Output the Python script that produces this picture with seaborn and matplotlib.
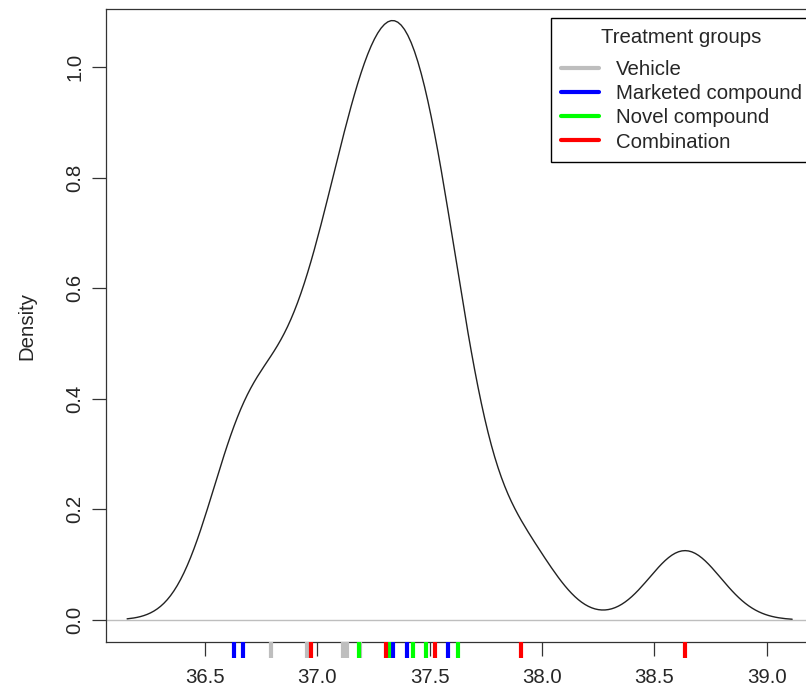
import numpy as np
import pandas as pd
import matplotlib
matplotlib.use("Agg")
import matplotlib.pyplot as plt
import seaborn as sns
from matplotlib.lines import Line2D

# values (one tick per animal; one vehicle tick sits under a green one)
vehicle = [36.795, 36.952, 37.115, 37.133, 37.190]
marketed = [36.630, 36.669, 37.336, 37.401, 37.583]
novel = [37.187, 37.320, 37.428, 37.482, 37.627]
combination = [36.971, 37.307, 37.523, 37.907, 38.637]

groups = ["Vehicle", "Marketed compound", "Novel compound", "Combination"]
colors = {"Vehicle": "#BEBEBE", "Marketed compound": "#0000FF",
          "Novel compound": "#00FF00", "Combination": "#FF0000"}

x_ticks = [36.5, 37.0, 37.5, 38.0, 38.5, 39.0]
y_ticks = [0.0, 0.2, 0.4, 0.6, 0.8, 1.0]

# kernel bandwidth (tails run 3 bw past the data)
bandwidth = 0.159

df = pd.DataFrame({
    "value": vehicle + marketed + novel + combination,
    "group": ["Vehicle"] * len(vehicle) + ["Marketed compound"] * len(marketed)
             + ["Novel compound"] * len(novel) + ["Combination"] * len(combination),
})

sns.set_theme(style="white")
plt.rcParams["font.family"] = ["Liberation Sans", "DejaVu Sans"]
fs = 14.7

fig = plt.figure(figsize=(8.06, 6.91), dpi=100)
ax = fig.add_axes([106 / 806, 49 / 691, 1.004 - 106 / 806, 633 / 691])

sd = df["value"].std(ddof=1)

ax.axhline(0, color="#BEBEBE", lw=1.0, zorder=1)
sns.kdeplot(data=df, x="value", bw_method=bandwidth / sd, cut=3,
            color="#222222", linewidth=1.0, ax=ax, zorder=2)
sns.rugplot(data=df, x="value", hue="group", palette=colors, height=-0.025,
            clip_on=False, linewidth=3.0, legend=False, ax=ax, zorder=5)

ax.set_xlim(36.059, 39.19)
ax.set_ylim(-0.0398, 1.105)
ax.set_xticks(x_ticks)
ax.set_xticklabels([f"{t:.1f}" for t in x_ticks], fontsize=fs)
ax.set_yticks(y_ticks)
ax.set_yticklabels([f"{t:.1f}" for t in y_ticks], fontsize=fs,
                   rotation=90, va="center")
ax.tick_params(axis="both", direction="out", length=10, width=0.9,
               color="#333333", bottom=True, left=True)
ax.tick_params(axis="x", pad=8.5)
ax.tick_params(axis="y", pad=5.5)
ax.set_xlabel("")
ax.set_ylabel("Density", fontsize=fs, labelpad=21)
for s in ax.spines.values():
    s.set_visible(True)
    s.set_color("#333333")
    s.set_linewidth(0.9)

handles = [Line2D([], [], color=colors[g], lw=3.0) for g in groups]
leg = ax.legend(handles, groups, title="Treatment groups", loc="upper right",
                bbox_to_anchor=(1.0 + 3 / 703, 1 - 9 / 633), fontsize=fs,
                title_fontsize=fs, frameon=True, fancybox=False,
                edgecolor="black", framealpha=1, handlelength=1.85,
                handletextpad=0.85, labelspacing=0.26, borderpad=0.5,
                borderaxespad=0)
leg.get_frame().set_linewidth(1.0)
leg._legend_box.sep = 9.0  # wider gap under the title

fig.savefig("out.png", dpi=100)
